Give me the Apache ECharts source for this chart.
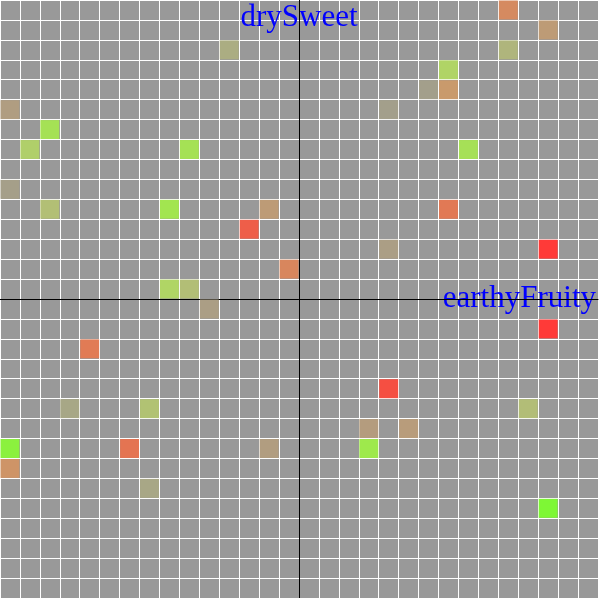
<!DOCTYPE html>
<html>
<head>
<meta charset="utf-8">
<script src="https://cdn.jsdelivr.net/npm/echarts@6/dist/echarts.min.js"></script>
<style>
html,body{margin:0;padding:0;background:#999999;}
#chart{width:599px;height:598px;}
</style>
</head>
<body>
<div id="chart"></div>
<script>
// cell lower-left corners (earthyFruity, drySweet) and value (-1 red .. 1 green)
const xs = [10, 12, 10, -4, 7, 6, 7, 4, -15, -13, -14, -6, 8, -15, -13, -7, -2, 7, -3, 4, 12, -1, -7, -6, -5, 12, -11, 4, -12, -8, -15, -9, -15, -8, -2, 3, 3, 11, 5, 12];
const ys = [14, 13, 12, 12, 11, 10, 10, 9, 9, 8, 7, 7, 7, 5, 4, 4, 4, 4, 3, 2, 2, 1, 0, 0, -1, -2, -3, -5, -6, -6, -8, -8, -9, -10, -8, -7, -8, -6, -7, -11];
const vals = [-0.5, -0.23, 0.26, 0.17, 0.66, 0, -0.33, 0, -0.11, 0.77, 0.59, 0.77, 0.76, -0.02, 0.38, 0.8, -0.23, -0.67, -0.81, -0.07, -1, -0.54, 0.67, 0.37, -0.07, -1, -0.66, -0.89, 0.09, 0.42, 0.93, -0.7, -0.4, 0.1, -0.12, -0.15, 0.83, 0.36, -0.18, 1];
const xName = 'earthyFruity';
const yName = 'drySweet';

const data = xs.map((x, i) => [x, ys[i], vals[i]]);
const chart = echarts.init(document.getElementById('chart'));
const axisCommon = {
  type: 'value', min: -15, max: 15, interval: 1,
  axisLine: { onZero: true, lineStyle: { color: '#000', width: 1 } },
  axisTick: { show: false },
  axisLabel: { show: false },
  splitLine: { show: true, lineStyle: { color: '#fff', width: 1 } }
};
chart.setOption({
  backgroundColor: '#999999',
  animation: false,
  grid: { left: 0, right: 0, top: 0, bottom: 0, containLabel: false },
  xAxis: Object.assign({}, axisCommon, {
    name: xName, nameLocation: 'end', nameGap: -2,
    nameTextStyle: { color: '#0000ff', fontFamily: 'Liberation Serif', fontSize: 31, align: 'right', verticalAlign: 'middle' }
  }),
  yAxis: Object.assign({}, axisCommon, {
    name: yName, nameLocation: 'end', nameGap: -33,
    nameTextStyle: { color: '#0000ff', fontFamily: 'Liberation Serif', fontSize: 31, align: 'center', verticalAlign: 'bottom' }
  }),
  visualMap: {
    show: false, type: 'continuous', dimension: 2, min: -1, max: 1,
    inRange: { color: ['#ff3a38', '#f05a47', '#e17a55', '#d58a60', '#c99a6c', '#b69c7c', '#a39f8b', '#abad82', '#b2bb78', '#b1c86f', '#b0d566', '#9ee94b', '#7ef735'] }
  },
  series: [{
    type: 'custom',
    data: data,
    encode: { x: 0, y: 1 },
    z: 1,
    renderItem: function (params, api) {
      const p0 = api.coord([api.value(0), api.value(1) + 1]);
      const p1 = api.coord([api.value(0) + 1, api.value(1)]);
      return {
        type: 'rect',
        shape: { x: p0[0] + 0.5, y: p0[1] + 0.5, width: p1[0] - p0[0] - 1, height: p1[1] - p0[1] - 1 },
        style: { fill: api.visual('color') }
      };
    }
  }]
});
</script>
</body>
</html>
